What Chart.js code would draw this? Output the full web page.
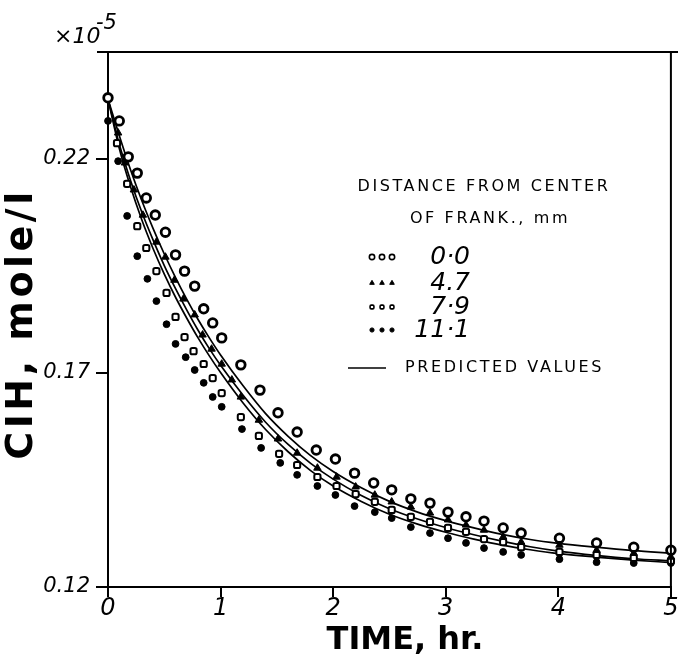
<!DOCTYPE html>
<html>
<head>
<meta charset="utf-8">
<script src="https://cdn.jsdelivr.net/npm/chart.js@4.4.1/dist/chart.umd.min.js"></script>
<style>
  html, body { margin: 0; padding: 0; background: #fff; }
  #wrap { width: 678px; height: 669px; position: relative; }
</style>
</head>
<body>
<div id="wrap"><canvas id="chart"></canvas></div>
<script>
// time in hr, ClH in 1e-5 mole/l
const t00 = [0, 0.10, 0.18, 0.26, 0.34, 0.42, 0.51, 0.60, 0.68, 0.77, 0.85, 0.93, 1.01, 1.18, 1.35, 1.51, 1.68, 1.85, 2.02, 2.19, 2.36, 2.52, 2.69, 2.86, 3.02, 3.18, 3.34, 3.51, 3.67, 4.01, 4.34, 4.67, 5.00];
const c00 = [0.2343, 0.2289, 0.2205, 0.2167, 0.2109, 0.2069, 0.2029, 0.1976, 0.1938, 0.1903, 0.1850, 0.1817, 0.1782, 0.1719, 0.1660, 0.1607, 0.1562, 0.1520, 0.1499, 0.1466, 0.1443, 0.1427, 0.1406, 0.1396, 0.1375, 0.1364, 0.1354, 0.1338, 0.1326, 0.1314, 0.1303, 0.1293, 0.1286];

const t47 = [0.09, 0.15, 0.23, 0.31, 0.43, 0.51, 0.59, 0.67, 0.77, 0.84, 0.92, 1.01, 1.10, 1.18, 1.34, 1.51, 1.68, 1.86, 2.03, 2.20, 2.37, 2.52, 2.69, 2.86, 3.02, 3.18, 3.34, 3.51, 3.67, 4.01, 4.34, 4.67, 5.00];
const c47 = [0.2261, 0.2191, 0.2128, 0.2069, 0.2006, 0.1971, 0.1917, 0.1873, 0.1836, 0.1789, 0.1756, 0.1721, 0.1684, 0.1644, 0.1590, 0.1546, 0.1513, 0.1478, 0.1457, 0.1434, 0.1415, 0.1399, 0.1387, 0.1373, 0.1357, 0.1345, 0.1333, 0.1317, 0.1305, 0.1298, 0.1286, 0.1279, 0.1270];

const t79 = [0.08, 0.17, 0.26, 0.34, 0.43, 0.52, 0.60, 0.68, 0.76, 0.85, 0.93, 1.01, 1.18, 1.34, 1.52, 1.68, 1.86, 2.03, 2.20, 2.37, 2.52, 2.69, 2.86, 3.02, 3.18, 3.34, 3.51, 3.67, 4.01, 4.34, 4.67, 5.00];
const c79 = [0.2237, 0.2142, 0.2043, 0.1992, 0.1938, 0.1887, 0.1831, 0.1784, 0.1751, 0.1721, 0.1688, 0.1653, 0.1597, 0.1553, 0.1511, 0.1485, 0.1457, 0.1436, 0.1417, 0.1399, 0.1380, 0.1364, 0.1352, 0.1338, 0.1329, 0.1312, 0.1305, 0.1293, 0.1282, 0.1275, 0.1268, 0.1261];

const t111 = [0, 0.09, 0.17, 0.26, 0.35, 0.43, 0.52, 0.60, 0.69, 0.77, 0.85, 0.93, 1.01, 1.19, 1.36, 1.53, 1.68, 1.86, 2.02, 2.19, 2.37, 2.52, 2.69, 2.86, 3.02, 3.18, 3.34, 3.51, 3.67, 4.01, 4.34, 4.67, 5.00];
const c111 = [0.2289, 0.2195, 0.2067, 0.1973, 0.1920, 0.1868, 0.1814, 0.1768, 0.1737, 0.1707, 0.1677, 0.1644, 0.1621, 0.1569, 0.1525, 0.1490, 0.1462, 0.1436, 0.1415, 0.1389, 0.1375, 0.1361, 0.1340, 0.1326, 0.1314, 0.1303, 0.1291, 0.1282, 0.1275, 0.1265, 0.1258, 0.1256, 0.1256];

// predicted curves
const predT = [0, 0.1, 0.2, 0.3, 0.4, 0.5, 0.6, 0.7, 0.8, 0.9, 1.0, 1.2, 1.4, 1.6, 1.8, 2.0, 2.25, 2.5, 2.75, 3.0, 3.25, 3.5, 3.75, 4.0, 4.33, 4.67, 5.0];
const predU = [0.2340, 0.2255, 0.2175, 0.2103, 0.2038, 0.1978, 0.1923, 0.1872, 0.1825, 0.1782, 0.1742, 0.1670, 0.1605, 0.1552, 0.1507, 0.1470, 0.1432, 0.1400, 0.1375, 0.1355, 0.1338, 0.1323, 0.1311, 0.1302, 0.1293, 0.1285, 0.1279];
const predM = [0.2340, 0.2235, 0.2150, 0.2076, 0.2011, 0.1951, 0.1897, 0.1847, 0.1800, 0.1757, 0.1718, 0.1648, 0.1585, 0.1533, 0.1489, 0.1452, 0.1414, 0.1383, 0.1359, 0.1339, 0.1322, 0.1307, 0.1294, 0.1284, 0.1274, 0.1266, 0.1261];
const predL = [0.2340, 0.2225, 0.2135, 0.2058, 0.1991, 0.1931, 0.1877, 0.1828, 0.1782, 0.1740, 0.1701, 0.1630, 0.1568, 0.1516, 0.1472, 0.1436, 0.1400, 0.1370, 0.1347, 0.1328, 0.1312, 0.1298, 0.1287, 0.1278, 0.1270, 0.1263, 0.1257];

const xTicks = [0, 1, 2, 3, 4, 5];
const yTicks = [0.12, 0.17, 0.22];
const legendLabels = ['0·0', '4.7', '7·9', '11·1'];

const FONT = '"DejaVu Sans", sans-serif';

function pts(xs, ys) {
    return xs.map((x, i) => ({ x: x, y: ys[i] }));
}

const markers = [
    { style: 'circle', r: 4.3, bw: 2.8, bg: '#fff' },
    { style: 'triangle', r: 4.3, bw: 1, bg: '#000' },
    { style: 'rectRounded', r: 3.6, bw: 2, bg: '#fff' },
    { style: 'circle', r: 3.4, bw: 1, bg: '#000' }
];

function pointSet(xs, ys, m) {
    return {
        type: 'scatter', data: pts(xs, ys), showLine: false, clip: false,
        pointStyle: m.style, pointRadius: m.r, pointBorderWidth: m.bw,
        pointBackgroundColor: m.bg, pointBorderColor: '#000', order: 1
    };
}

function lineSet(ys) {
    return {
        type: 'line', data: pts(predT, ys), showLine: true, pointRadius: 0,
        borderColor: '#000', borderWidth: 1.7, cubicInterpolationMode: 'monotone',
        fill: false, order: 2
    };
}

const decor = {
    id: 'decor',
    afterDraw(chart) {
        const { ctx, chartArea: a } = chart;
        ctx.save();
        ctx.strokeStyle = '#000';
        ctx.fillStyle = '#000';
        ctx.lineWidth = 2;
        ctx.beginPath();
        ctx.moveTo(a.left - 11, a.top);
        ctx.lineTo(chart.width, a.top);
        ctx.moveTo(a.right, a.top);
        ctx.lineTo(a.right, a.bottom);
        ctx.stroke();

        // x10^-5
        ctx.textBaseline = 'alphabetic';
        ctx.textAlign = 'left';
        ctx.font = 'italic 22px ' + FONT;
        ctx.fillText('×10', 54, 43);
        ctx.font = 'italic 21px ' + FONT;
        ctx.fillText('-5', 96, 29);

        // axis titles
        ctx.textAlign = 'center';
        ctx.textBaseline = 'middle';
        ctx.font = 'bold 32px ' + FONT;
        ctx.fillText('TIME, hr.', 405, 641);

        ctx.save();
        ctx.translate(22, 324);
        ctx.rotate(-Math.PI / 2);
        ctx.font = 'bold 38px ' + FONT;
        ctx.letterSpacing = '3.5px';
        ctx.fillText('CIH, mole/l', 0, 0);
        ctx.restore();

        // legend
        ctx.font = '16px ' + FONT;
        ctx.letterSpacing = '2.6px';
        ctx.fillText('DISTANCE FROM CENTER', 484, 187);
        ctx.fillText('OF FRANK., mm', 490, 219);
        ctx.textAlign = 'left';
        ctx.fillText('PREDICTED VALUES', 405, 368);
        ctx.letterSpacing = '0px';

        ctx.beginPath();
        ctx.lineWidth = 1.7;
        ctx.moveTo(348, 368);
        ctx.lineTo(386, 368);
        ctx.stroke();

        const rowY = [257, 283, 307, 330];
        ctx.font = 'italic 25px ' + FONT;
        ctx.textAlign = 'right';
        legendLabels.forEach((lab, i) => {
            const m = markers[i];
            [372, 382, 392].forEach(x => {
                ctx.fillStyle = m.bg;
                ctx.strokeStyle = '#000';
                ctx.lineWidth = m.bw > 1 ? 1.6 : 1;
                Chart.helpers.drawPoint(ctx, { pointStyle: m.style, radius: m.r * 0.62, borderWidth: ctx.lineWidth, rotation: 0 }, x, rowY[i]);
            });
            ctx.fillStyle = '#000';
            ctx.fillText(lab, 470, rowY[i]);
        });
        ctx.restore();
    }
};

new Chart(document.getElementById('chart'), {
    data: {
        datasets: [
            pointSet(t00, c00, markers[0]),
            pointSet(t47, c47, markers[1]),
            pointSet(t79, c79, markers[2]),
            pointSet(t111, c111, markers[3]),
            lineSet(predU),
            lineSet(predM),
            lineSet(predL)
        ]
    },
    options: {
        responsive: true,
        maintainAspectRatio: false,
        animation: false,
        layout: { padding: { top: 52, right: 3, left: 0, bottom: 0 } },
        plugins: { legend: { display: false }, tooltip: { enabled: false } },
        scales: {
            x: {
                type: 'linear', min: 0, max: 5,
                afterBuildTicks: s => { s.ticks = xTicks.map(v => ({ value: v })); },
                afterFit: s => { s.height = 82; s.paddingLeft = 0; s.paddingRight = 0; },
                ticks: { color: '#000', font: { family: FONT, size: 24, style: 'italic' }, padding: -3, maxRotation: 0, callback: v => String(v) },
                grid: { drawOnChartArea: false, drawTicks: true, tickLength: 10, color: '#000', lineWidth: 2 },
                border: { display: true, color: '#000', width: 2 }
            },
            y: {
                type: 'linear', min: 0.12, max: 0.245,
                afterBuildTicks: s => { s.ticks = yTicks.map(v => ({ value: v })); },
                afterFit: s => { s.width = 108; s.paddingTop = 0; s.paddingBottom = 0; },
                ticks: { color: '#000', font: { family: FONT, size: 21, style: 'italic' }, padding: 6, callback: v => v.toFixed(2) },
                grid: { drawOnChartArea: false, drawTicks: true, tickLength: 12, color: '#000', lineWidth: 2 },
                border: { display: true, color: '#000', width: 2 }
            }
        }
    },
    plugins: [decor]
});
</script>
</body>
</html>
